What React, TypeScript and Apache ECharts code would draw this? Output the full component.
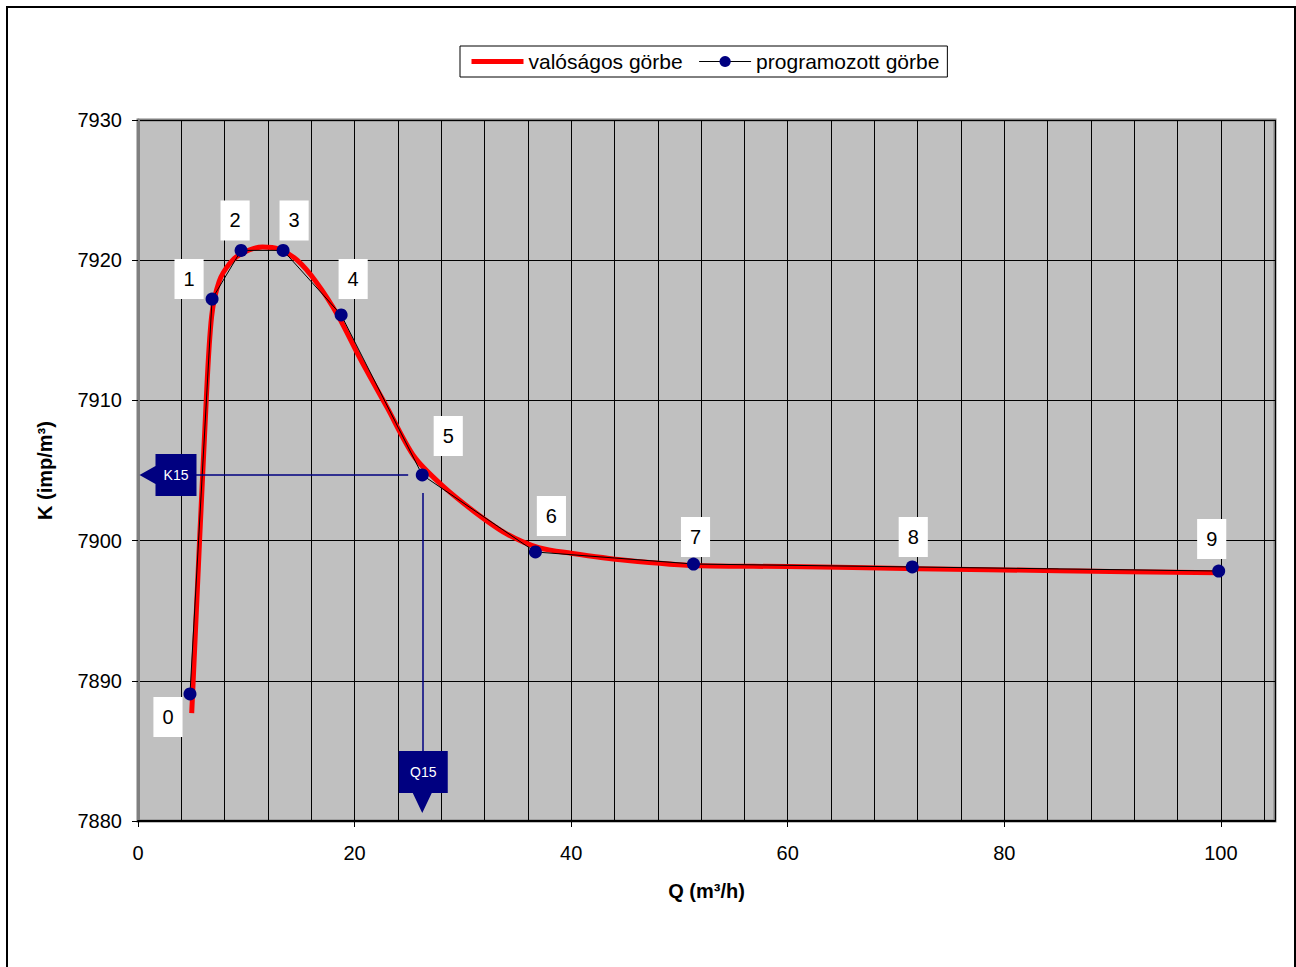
import React, { useEffect, useRef } from "react";
import * as echarts from "echarts";

// Measured (real) curve
const realQ = [4.96, 6.3, 6.8, 7.5, 8.5, 9.6, 11.5, 13.0, 14.7, 16.5, 18.5, 20.5, 23.0, 25.5, 28.0, 31.0, 34.0, 37.0, 40.0, 45.0, 52.0, 60.0, 72.0, 85.0, 99.8];
const realK = [7887.7, 7910.0, 7916.0, 7918.5, 7919.8, 7920.5, 7920.95, 7920.8, 7920.0, 7918.4, 7916.0, 7913.0, 7909.5, 7906.0, 7904.0, 7902.1, 7900.5, 7899.5, 7899.1, 7898.6, 7898.2, 7898.15, 7898.0, 7897.85, 7897.7];

// Programmed curve (points 0..9)
const progQ = [4.8, 6.84, 9.52, 13.4, 18.76, 26.25, 36.7, 51.3, 71.5, 99.8];
const progK = [7889.06, 7917.23, 7920.7, 7920.7, 7916.1, 7904.68, 7899.19, 7898.33, 7898.12, 7897.83];
const pointNames = ["0", "1", "2", "3", "4", "5", "6", "7", "8", "9"];

// label box offsets (px) relative to each point
const labelOffsets = [[-22, 23], [-23, -20], [-6, -30], [11, -30], [12, -36], [26, -39], [16, -36], [2, -27], [1, -30], [-7, -32]];

// Q15 / K15 reading (point 5)
const q15 = 26.25;
const k15 = 7904.68;
const kLineFromQ = 5.27;
const kLineToQ = 24.95;
const qLineFromK = 7903.4;
const qLineToK = 7885.0;

const xMin = 0;
const xMax = 105;
const yMin = 7880;
const yMax = 7930;
const yTicks = [7880, 7890, 7900, 7910, 7920, 7930];

const FONT = "'Liberation Sans', Arial, sans-serif";
const NAVY = "#000080";
const RED = "#FF0000";

export default function App() {
  const ref = useRef<HTMLDivElement>(null);
  useEffect(() => {
    const chart = echarts.init(ref.current!, null, { renderer: "svg" });
    const realData = realQ.map((q, i) => [q, realK[i]]);
    const progData = progQ.map((q, i) => ({
      value: [q, progK[i]],
      name: pointNames[i],
      label: { offset: labelOffsets[i] },
    }));
    const option: any = {
      animation: false,
      backgroundColor: "#ffffff",
      textStyle: { fontFamily: FONT },
      graphic: [
        {
          type: "rect",
          shape: { x: 7, y: 7, width: 1288, height: 990 },
          style: { fill: "none", stroke: "#000", lineWidth: 2 },
          silent: true,
          z: -1,
        },
      ],
      legend: {
        left: 460,
        top: 46,
        backgroundColor: "#fff",
        borderColor: "#000",
        borderWidth: 1,
        padding: [5, 8, 5, 9],
        itemGap: 16,
        itemWidth: 52,
        itemHeight: 14,
        textStyle: { fontSize: 21, color: "#000", fontFamily: FONT, padding: [0, 0, 0, 0] },
        data: [
          {
            name: "valóságos görbe",
            itemStyle: { opacity: 0 },
            lineStyle: { width: 5, color: RED },
          },
          {
            name: "programozott görbe",
            lineStyle: { width: 1, color: "#000" },
          },
        ],
      },
      grid: {
        left: 138,
        top: 120,
        right: 21,
        bottom: 146,
        show: true,
        backgroundColor: "#C0C0C0",
        borderColor: "#808080",
        borderWidth: 3,
      },
      xAxis: [
        {
          type: "value",
          min: xMin,
          max: xMax,
          interval: 4,
          position: "bottom",
          axisLine: { show: false },
          axisTick: { show: false },
          axisLabel: { show: false },
          splitLine: { show: true, lineStyle: { color: "#000", width: 1 } },
        },
        {
          type: "value",
          min: xMin,
          max: xMax,
          interval: 20,
          position: "bottom",
          name: "Q (m³/h)",
          nameLocation: "middle",
          nameGap: 60,
          nameTextStyle: { fontSize: 20, fontWeight: "bold", color: "#000", fontFamily: FONT },
          axisLine: { show: true, onZero: false, lineStyle: { color: "#000", width: 2 } },
          axisTick: { show: true, length: 6, lineStyle: { color: "#000" } },
          axisLabel: {
            show: true,
            margin: 22,
            fontSize: 20,
            color: "#000",
            fontFamily: FONT,
            showMaxLabel: false,
            formatter: (v: number) => (v % 20 === 0 ? String(v) : ""),
          },
          splitLine: { show: false },
        },
      ],
      yAxis: {
        type: "value",
        min: yMin,
        max: yMax,
        interval: 10,
        name: "K (imp/m³)",
        nameLocation: "middle",
        nameGap: 83,
        nameRotate: 90,
        nameTextStyle: { fontSize: 20, fontWeight: "bold", color: "#000", fontFamily: FONT },
        axisLine: { show: true, onZero: false, lineStyle: { color: "#808080", width: 3 } },
        axisTick: { show: true, length: 6, lineStyle: { color: "#000" } },
        axisLabel: {
          margin: 16,
          fontSize: 20,
          color: "#000",
          fontFamily: FONT,
          formatter: (v: number) => (yTicks.includes(v) ? String(v) : ""),
        },
        splitLine: { show: true, lineStyle: { color: "#000", width: 1 } },
      },
      series: [
        {
          name: "valóságos görbe",
          type: "line",
          xAxisIndex: 0,
          data: realData,
          symbol: "none",
          smooth: 0.3,
          lineStyle: { color: RED, width: 5 },
          itemStyle: { color: RED },
          z: 3,
        },
        {
          name: "programozott görbe",
          type: "line",
          xAxisIndex: 0,
          data: progData,
          symbol: "circle",
          symbolSize: 13,
          lineStyle: { color: "#000", width: 1 },
          itemStyle: { color: NAVY },
          z: 4,
          label: {
            show: true,
            position: "inside",
            formatter: (p: any) => p.name,
            backgroundColor: "#fff",
            color: "#000",
            fontSize: 20,
            fontFamily: FONT,
            padding: [10, 9, 9, 9],
            lineHeight: 21,
          },
          markLine: {
            silent: true,
            symbol: "none",
            label: { show: false },
            lineStyle: { color: NAVY, width: 1.5, type: "solid" },
            data: [
              [{ coord: [kLineFromQ, k15] }, { coord: [kLineToQ, k15] }],
              [{ coord: [q15, qLineFromK] }, { coord: [q15, qLineToK] }],
            ],
          },
          markPoint: {
            silent: true,
            data: [
              {
                name: "K15",
                coord: [xMin, k15],
                symbol: "path://M0,21 L16,12 L16,0 L57,0 L57,42 L16,42 L16,30 Z",
                symbolSize: [57, 42],
                symbolKeepAspect: false,
                symbolOffset: [30, 0],
                itemStyle: { color: NAVY },
                label: { show: true, formatter: "K15", color: "#fff", fontSize: 14, offset: [8, 0], fontFamily: FONT },
              },
              {
                name: "Q15",
                coord: [q15, yMin],
                symbol: "path://M0,0 L49,0 L49,42 L33,42 L23.5,62 L14,42 L0,42 Z",
                symbolSize: [49, 62],
                symbolKeepAspect: false,
                symbolOffset: [1, -39],
                itemStyle: { color: NAVY },
                label: { show: true, formatter: "Q15", color: "#fff", fontSize: 14, offset: [0, -10], fontFamily: FONT },
              },
            ],
          },
        },
      ],
    };
    chart.setOption(option);
    return () => chart.dispose();
  }, []);
  return (
    <div
      ref={ref}
      style={{ position: "fixed", left: 0, top: 0, width: 1296, height: 967 }}
    />
  );
}
